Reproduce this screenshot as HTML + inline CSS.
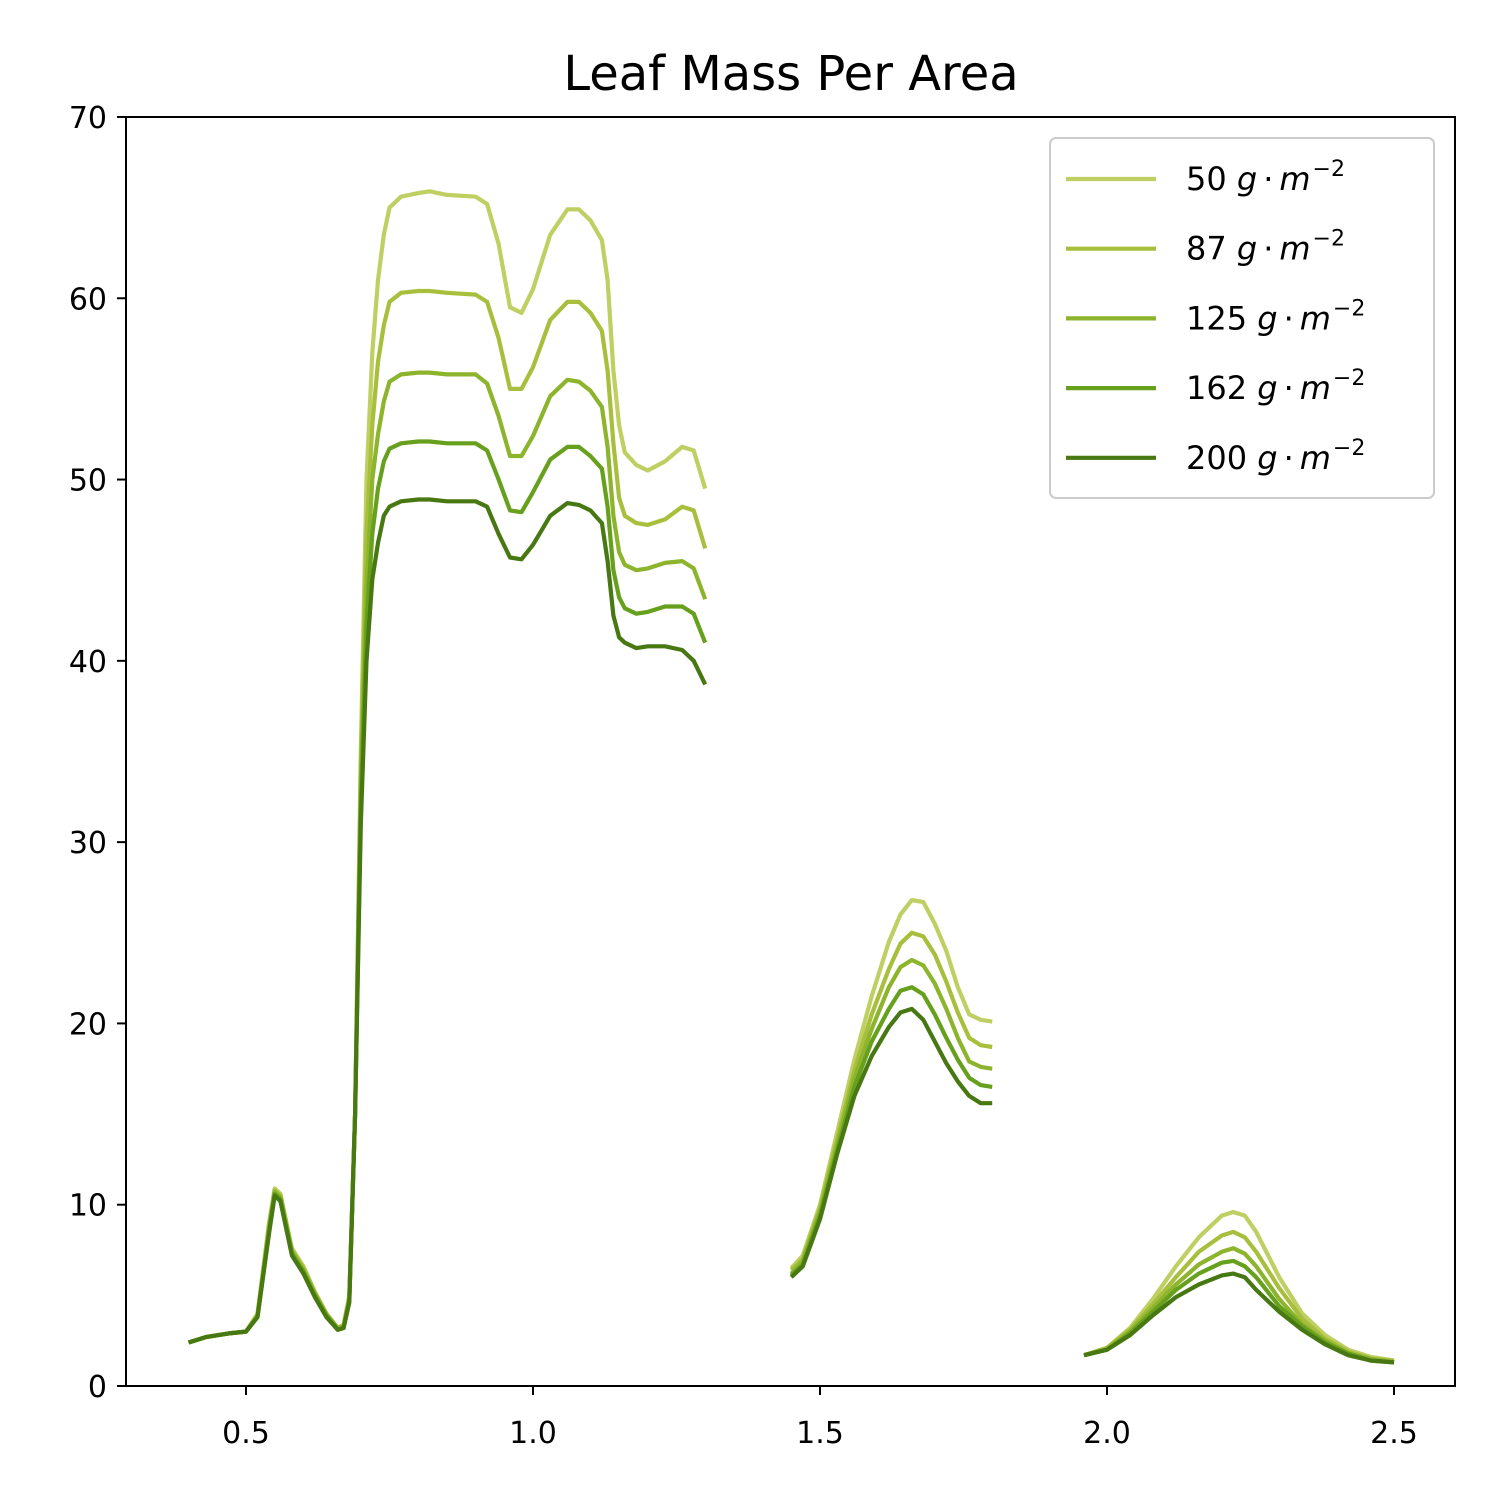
<!DOCTYPE html>
<html><head><meta charset="utf-8"><style>
body{margin:0;background:#fff}
svg text{font-family:"DejaVu Sans","Liberation Sans",sans-serif}
</style></head><body>
<svg id="chart" width="1500" height="1500" xmlns="http://www.w3.org/2000/svg">
<rect width="1500" height="1500" fill="#fff"/>
<text x="791" y="90" text-anchor="middle" font-size="48">Leaf Mass Per Area</text>
<g id="plot"></g>
<rect x="126" y="117" width="1329" height="1269" fill="none" stroke="#000" stroke-width="2"/>
<g id="legend"></g>
</svg>
<script>
const W1=[0.40,0.43,0.47,0.50,0.52,0.54,0.55,0.56,0.58,0.60,0.62,0.64,0.66,0.67,0.68,0.69,0.70,0.71,0.72,0.73,0.74,0.75,0.77,0.80,0.82,0.85,0.90,0.92,0.94,0.96,0.98,1.00,1.03,1.06,1.08,1.10,1.12,1.13,1.14,1.15,1.16,1.18,1.20,1.23,1.26,1.28,1.30];
const W2=[1.45,1.47,1.50,1.53,1.56,1.59,1.62,1.64,1.66,1.68,1.70,1.72,1.74,1.76,1.78,1.80];
const W3=[1.96,2.00,2.04,2.08,2.12,2.16,2.20,2.22,2.24,2.26,2.30,2.34,2.38,2.42,2.46,2.50];
const labels=["50","87","125","162","200"];
const s50a=[2.4,2.7,2.9,3.0,4.0,9.0,10.9,10.6,7.6,6.6,5.2,4.0,3.2,3.4,5.0,15,35,50,57,61,63.5,65,65.6,65.8,65.9,65.7,65.6,65.2,63,59.5,59.2,60.5,63.5,64.9,64.9,64.3,63.2,61,56,53,51.5,50.8,50.5,51,51.8,51.6,49.5];
const s87a=[2.4,2.7,2.9,3.0,3.9,8.8,10.8,10.5,7.5,6.5,5.1,4.0,3.2,3.3,4.9,15,34,47,53,56.5,58.5,59.8,60.3,60.4,60.4,60.3,60.2,59.8,57.8,55,55,56.2,58.8,59.8,59.8,59.2,58.2,56,52,49,48,47.6,47.5,47.8,48.5,48.3,46.2];
const s125a=[2.4,2.7,2.9,3.0,3.9,8.7,10.7,10.4,7.4,6.4,5.1,3.9,3.2,3.3,4.8,15,33,44,50,52.5,54.3,55.4,55.8,55.9,55.9,55.8,55.8,55.3,53.5,51.3,51.3,52.4,54.6,55.5,55.4,54.9,54,51.8,48,46,45.3,45,45.1,45.4,45.5,45.1,43.4];
const s162a=[2.4,2.7,2.9,3.0,3.8,8.5,10.6,10.3,7.3,6.3,5.0,3.9,3.1,3.2,4.7,15,32,42,47,49.5,51,51.7,52,52.1,52.1,52,52,51.6,50,48.3,48.2,49.3,51.1,51.8,51.8,51.3,50.6,48.5,45,43.5,42.9,42.6,42.7,43,43,42.6,41];
const s200a=[2.4,2.7,2.9,3.0,3.8,8.4,10.5,10.2,7.2,6.2,4.9,3.8,3.1,3.2,4.6,15,31,40,44.5,46.5,48,48.5,48.8,48.9,48.9,48.8,48.8,48.5,47,45.7,45.6,46.4,48,48.7,48.6,48.3,47.6,45.5,42.5,41.3,41,40.7,40.8,40.8,40.6,40,38.7];
const s50b=[6.5,7.2,10,14,18,21.5,24.5,26,26.8,26.7,25.5,24,22,20.5,20.2,20.1];
const s87b=[6.4,7.0,9.8,13.6,17.4,20.5,23,24.4,25,24.8,23.8,22.3,20.6,19.2,18.8,18.7];
const s125b=[6.2,6.9,9.6,13.3,17,19.7,22,23.1,23.5,23.2,22.2,20.8,19.2,17.9,17.6,17.5];
const s162b=[6.1,6.7,9.4,13,16.5,19,20.8,21.8,22,21.6,20.5,19.2,18,17,16.6,16.5];
const s200b=[6.0,6.6,9.2,12.8,16,18.2,19.8,20.6,20.8,20.2,19,17.8,16.8,16,15.6,15.6];
const s50c=[1.7,2.1,3.2,4.8,6.6,8.2,9.4,9.6,9.4,8.5,6.0,4.0,2.8,2.0,1.6,1.4];
const s87c=[1.7,2.1,3.1,4.5,6.0,7.4,8.3,8.5,8.2,7.4,5.4,3.7,2.6,1.9,1.5,1.4];
const s125c=[1.7,2.0,3.0,4.3,5.6,6.7,7.4,7.6,7.3,6.6,4.8,3.4,2.5,1.8,1.5,1.3];
const s162c=[1.7,2.0,2.9,4.1,5.3,6.2,6.8,6.9,6.6,6.0,4.4,3.3,2.4,1.8,1.4,1.3];
const s200c=[1.7,2.0,2.8,3.9,4.9,5.6,6.1,6.2,6.0,5.3,4.1,3.1,2.3,1.7,1.4,1.3];
const xTicks=[0.5,1.0,1.5,2.0,2.5];
const yTicks=[0,10,20,30,40,50,60,70];

const colors=["#bfcf62","#a7bf3c","#8cb42c","#66a01c","#477812"];
const series=[[s50a,s50b,s50c],[s87a,s87b,s87c],[s125a,s125b,s125c],[s162a,s162b,s162c],[s200a,s200b,s200c]];
const X=v=>246+(v-0.5)*574;
const Y=v=>1386-v*18.129;
const NS="http://www.w3.org/2000/svg";
const svg=document.getElementById('chart');
const plot=document.getElementById('plot');
function mk(t,a,p){const e=document.createElementNS(NS,t);for(const k in a)e.setAttribute(k,a[k]);(p||svg).appendChild(e);return e;}
xTicks.forEach(t=>{
  const l=mk('line',{x1:X(t),x2:X(t),y1:1386,y2:1395,stroke:'#000','stroke-width':2});
  
  
  const tx=mk('text',{x:X(t),y:1443,'text-anchor':'middle','font-size':30});
  tx.textContent=t.toFixed(1);
  
  
});
yTicks.forEach(t=>{
  const l=mk('line',{x1:117,x2:126,y1:Y(t),y2:Y(t),stroke:'#000','stroke-width':2});
  
  
  const tx=mk('text',{x:107,y:Y(t)+11,'text-anchor':'end','font-size':30});
  tx.textContent=t;
  
  
});
const Ws=[W1,W2,W3];
series.forEach((segs,i)=>{
  segs.forEach((vals,j)=>{
    const pts=vals.map((v,k)=>X(Ws[j][k]).toFixed(1)+','+Y(v).toFixed(1)).join(' ');
    const p=mk('polyline',{points:pts,fill:'none',stroke:colors[i],'stroke-width':4.2,'stroke-linejoin':'round','stroke-linecap':'butt'},plot);
    
    
  });
});
const lg=document.getElementById('legend');
const box=mk('rect',{x:1050,y:138,width:384,height:360,rx:6,fill:'#fff','fill-opacity':0.8,stroke:'#ccc','stroke-width':2},lg);


labels.forEach((lb,i)=>{
  const y=179+i*69.7;
  const l=mk('line',{x1:1066,x2:1156,y1:y,y2:y,stroke:colors[i],'stroke-width':4.2},lg);
  
  
  const t=mk('text',{x:1186,y:y+11,'font-size':32},lg);
  t.innerHTML=lb+' <tspan font-style="italic">g</tspan><tspan dx="6">·</tspan><tspan dx="6" font-style="italic">m</tspan><tspan font-size="22" dx="2" dy="-14">−2</tspan>';
  
  
});
</script>
</body></html>
